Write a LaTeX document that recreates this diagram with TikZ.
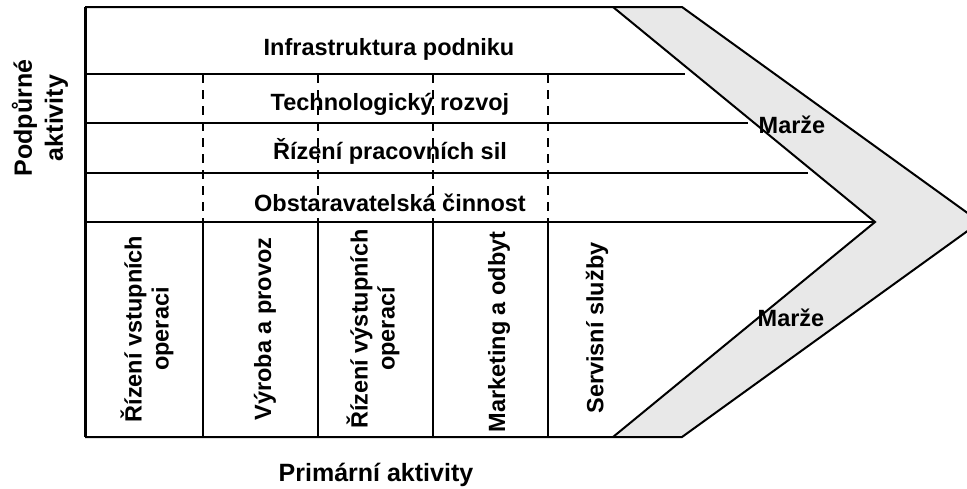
\documentclass[tikz,border=0pt]{standalone}
\usepackage{fontspec}
\setmainfont{Liberation Sans}
\definecolor{marginfill}{RGB}{232,232,232}
\begin{document}
\begin{tikzpicture}[x=1pt,y=-1pt,
  lbl/.style={font=\fontsize{23.5}{27}\selectfont\bfseries, inner sep=0pt},
  axiscap/.style={font=\fontsize{25}{31}\selectfont\bfseries, inner sep=0pt},
  hlbl/.style={lbl, anchor=base},
  vlbl/.style={lbl, rotate=90, align=center},
  rule/.style={line width=2pt},
  dashrule/.style={line width=2pt, dash pattern=on 8.5pt off 7.5pt},
  frame/.style={line width=2pt, line join=miter},
  spine/.style={line width=3pt},
]
\useasboundingbox (0,0) rectangle (967,488);
\clip (0,0) rectangle (967,488);

% corners of the value chain arrow
\coordinate (TL)   at (85,7);
\coordinate (BL)   at (85,437);
\coordinate (ITop) at (613,7);
\coordinate (IBot) at (613,437);
\coordinate (ITip) at (875,222);
\coordinate (OTop) at (682,7);
\coordinate (OBot) at (682,437);
\coordinate (OTip) at (980,222);

% margin band
\fill[marginfill] (ITop) -- (OTop) -- (OTip) -- (OBot) -- (IBot) -- (ITip) -- cycle;
\draw[frame] (TL) -- (OTop) -- (OTip) -- (OBot) -- (BL);
\draw[frame] (ITop) -- (ITip) -- (IBot);
\draw[spine] (TL) -- (BL);

% rows of the support activities
\coordinate (r1l) at (85,74);  \coordinate (r1r) at (685,74);
\coordinate (r2l) at (85,123); \coordinate (r2r) at (748,123);
\coordinate (r3l) at (85,173); \coordinate (r3r) at (808,173);
\coordinate (r4l) at (85,222);
\draw[rule] (r1l) -- (r1r);
\draw[rule] (r2l) -- (r2r);
\draw[rule] (r3l) -- (r3r);
\draw[rule] (r4l) -- (ITip);

% column separators: dashed above, solid below
\foreach \cx in {203,318,433,548}{
  \coordinate (ct) at (\cx,74);
  \coordinate (cm) at (\cx,222);
  \coordinate (cb) at (\cx,437);
  \draw[dashrule] (ct) -- (cm);
  \draw[rule] (cm) -- (cb);
}

% support activity labels
\node[hlbl] (infra) at (389,55)  {Infrastruktura podniku};
\node[hlbl] (tech)  at (390,110) {Technologický rozvoj};
\node[hlbl] (hr)    at (390,159) {Řízení pracovních sil};
\node[hlbl] (proc)  at (390,211) {Obstaravatelská činnost};

% primary activity labels
\node[vlbl] (inb)  at (147,329) {Řízení vstupních\\operaci};
\node[vlbl] (ops)  at (265,329) {Výroba a provoz};
\node[vlbl] (outb) at (373,329) {Řízení výstupních\\operací};
\node[vlbl] (mkt)  at (499,332) {Marketing a odbyt};
\node[vlbl] (serv) at (597,328) {Servisní služby};

% margin labels
\node[hlbl] (margTop) at (792,133) {Marže};
\node[hlbl] (margBot) at (791,326) {Marže};

% axis captions
\node[axiscap, rotate=90, align=center] (support) at (40,118) {Podpůrné\\aktivity};
\node[axiscap, anchor=base] (primary) at (376,481) {Primární aktivity};
\end{tikzpicture}
\end{document}
